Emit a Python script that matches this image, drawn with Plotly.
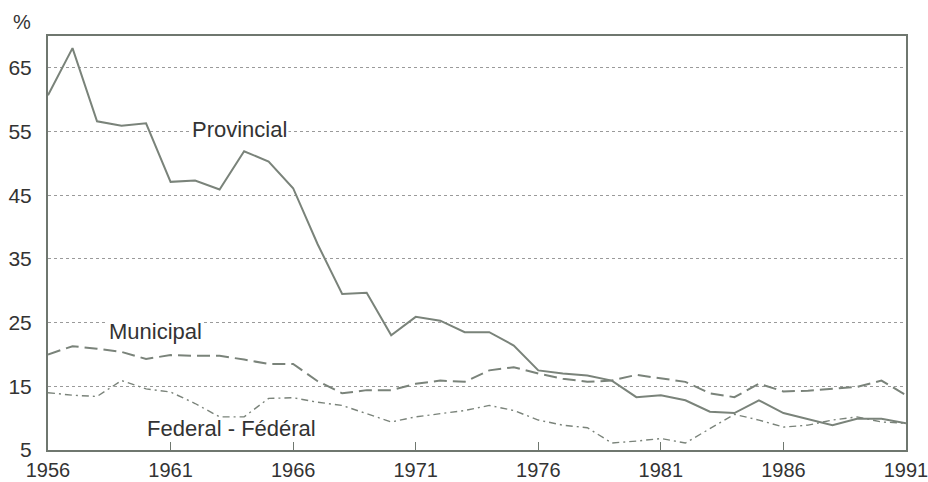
import plotly.graph_objects as go

years = list(range(1956, 1992))
provincial = [60.7, 68.1, 56.6, 55.9, 56.3, 47.1, 47.3, 45.9, 51.9, 50.3, 46.1, 37.3,
              29.5, 29.7, 23.0, 25.9, 25.3, 23.5, 23.5, 21.4, 17.5, 17.0, 16.7, 15.9,
              13.3, 13.6, 12.8, 11.0, 10.8, 12.8, 10.8, 9.8, 8.9, 9.9, 9.9, 9.2]
municipal = [20.0, 21.3, 20.9, 20.4, 19.3, 19.9, 19.8, 19.8, 19.2, 18.5, 18.5, 15.8,
             13.9, 14.4, 14.4, 15.4, 15.9, 15.7, 17.5, 18.0, 17.0, 16.2, 15.7, 15.9,
             16.8, 16.2, 15.7, 13.9, 13.3, 15.4, 14.2, 14.3, 14.6, 14.9, 15.9, 13.6]
federal = [14.0, 13.6, 13.4, 15.9, 14.6, 14.1, 12.3, 10.2, 10.2, 13.1, 13.2, 12.5,
           12.0, 10.7, 9.4, 10.2, 10.7, 11.2, 12.0, 11.2, 9.7, 8.9, 8.5, 6.1,
           6.4, 6.8, 6.1, 8.4, 10.6, 9.7, 8.6, 8.9, 9.7, 10.2, 9.4, 9.2]

x_ticks = [1956, 1961, 1966, 1971, 1976, 1981, 1986, 1991]
y_ticks = [5, 15, 25, 35, 45, 55, 65]

line_col = "#7a837a"
axis_col = "#6f776f"
text_col = "#333333"

fig = go.Figure()
fig.add_trace(go.Scatter(x=years, y=provincial, mode="lines", name="Provincial",
                         line=dict(color=line_col, width=2)))
fig.add_trace(go.Scatter(x=years, y=municipal, mode="lines", name="Municipal",
                         line=dict(color=line_col, width=2, dash="13px,6px")))
fig.add_trace(go.Scatter(x=years, y=federal, mode="lines", name="Federal - Fédéral",
                         line=dict(color=line_col, width=1.4, dash="7px,4px,2px,4px")))

font = "Liberation Sans, Arial, sans-serif"
fig.update_layout(
    width=928, height=482,
    margin=dict(l=48, r=22, t=36, b=32),
    paper_bgcolor="white", plot_bgcolor="white",
    showlegend=False,
    font=dict(family=font, size=20, color=text_col),
)
fig.update_xaxes(range=[1956, 1991], tickvals=x_ticks, ticks="inside", ticklen=8,
                 tickcolor=axis_col, showgrid=False, showline=True, linecolor=axis_col,
                 linewidth=2, mirror=True, zeroline=False, automargin=False,
                 ticklabelstandoff=1, ticklabeloverflow="allow",
                 tickfont=dict(family=font, size=20, color=text_col))
fig.update_yaxes(range=[5, 70], tickvals=y_ticks, ticks="", showgrid=True,
                 gridcolor="#9a9a9a", griddash="dot", gridwidth=1,
                 showline=True, linecolor=axis_col, linewidth=2, mirror=True,
                 zeroline=False, ticklabelstandoff=10, automargin=False,
                 ticklabeloverflow="allow",
                 tickfont=dict(family=font, size=21, color=text_col))

ann_font = dict(family=font, size=22, color=text_col)
fig.add_annotation(x=1963.83, y=55.3, text="Provincial", showarrow=False, font=ann_font,
                   bgcolor="white")
fig.add_annotation(x=1960.37, y=23.6, text="Municipal", showarrow=False, font=ann_font,
                   bgcolor="white")
fig.add_annotation(x=1963.47, y=8.3, text="Federal - Fédéral", showarrow=False, font=ann_font)
fig.add_annotation(xref="paper", yref="paper", x=-0.030, y=1.034, xanchor="center",
                   yanchor="middle", text="%", showarrow=False,
                   font=dict(family=font, size=20, color=text_col))

fig.write_html("out.html", config={"displayModeBar": False},
               post_script="document.body.style.margin='0';document.body.style.overflow='hidden';")
